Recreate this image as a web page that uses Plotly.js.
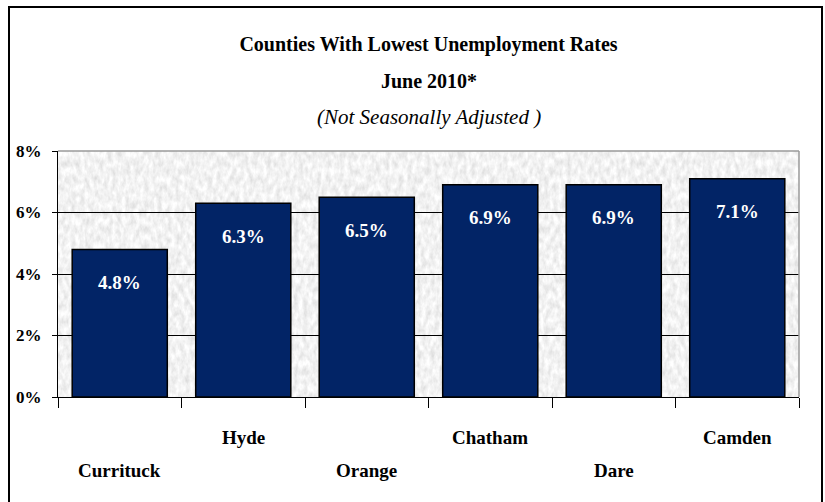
<!DOCTYPE html>
<html>
<head>
<meta charset="utf-8">
<script src="https://cdn.plot.ly/plotly-3.0.1.min.js"></script>
<style>
  html, body { margin: 0; padding: 0; background: #ffffff; }
  #chart { width: 825px; height: 502px; }
</style>
</head>
<body>
<div id="chart"></div>
<script>
// ---- Data ----
const counties = ["Currituck", "Hyde", "Orange", "Chatham", "Dare", "Camden"];
const rates = [4.8, 6.3, 6.5, 6.9, 6.9, 7.1];
const rateLabels = ["4.8%", "6.3%", "6.5%", "6.9%", "6.9%", "7.1%"];
const yTickVals = [0, 2, 4, 6, 8];
const yTickText = ["0%", "2%", "4%", "6%", "8%"];
const titleLines = ["Counties With Lowest Unemployment Rates", "June 2010*", "(Not Seasonally Adjusted )"];

const FONT = "Liberation Serif, Times New Roman, serif";

// granite-like texture for the plot background
const texture = 'data:image/svg+xml;utf8,' + encodeURIComponent(
  '<svg xmlns="http://www.w3.org/2000/svg" width="741" height="246" viewBox="0 0 741 246" preserveAspectRatio="none">' +
  '<filter id="g" x="0" y="0" width="100%" height="100%">' +
  '<feTurbulence type="fractalNoise" baseFrequency="0.22 0.12" numOctaves="3" seed="5" result="n"/>' +
  '<feColorMatrix type="matrix" values="0.42 0 0 0 0.68  0.42 0 0 0 0.68  0.42 0 0 0 0.68  0 0 0 0 1"/>' +
  '</filter>' +
  '<rect width="741" height="246" fill="#e8e8e8"/>' +
  '<rect width="741" height="246" filter="url(#g)"/>' +
  '</svg>');

const annotations = [];
// staggered category labels
counties.forEach((c, i) => {
  annotations.push({
    x: c, xref: 'x', yref: 'paper',
    y: (i % 2 === 0) ? -0.297 : -0.163,
    yanchor: 'middle', xanchor: 'center',
    text: '<b>' + c + '</b>', showarrow: false,
    font: { family: FONT, size: 19, color: '#000000' }
  });
});
// value labels inside bars
counties.forEach((c, i) => {
  annotations.push({
    x: c, y: rates[i], xref: 'x', yref: 'y',
    yanchor: 'middle', xanchor: 'center', yshift: -33,
    text: '<b>' + rateLabels[i] + '</b>', showarrow: false,
    font: { family: FONT, size: 19, color: '#ffffff' }
  });
});
// subtitle lines
annotations.push({
  xref: 'paper', yref: 'paper', x: 0.5, y: (397 - 81) / 246,
  xanchor: 'center', yanchor: 'middle', showarrow: false,
  text: '<b>' + titleLines[1] + '</b>',
  font: { family: FONT, size: 20, color: '#000000' }
});
annotations.push({
  xref: 'paper', yref: 'paper', x: 0.5, y: (397 - 117) / 246,
  xanchor: 'center', yanchor: 'middle', showarrow: false,
  text: '<i>' + titleLines[2] + '</i>',
  font: { family: FONT, size: 21, color: '#000000' }
});

const trace = {
  type: 'bar',
  x: counties,
  y: rates,
  marker: { color: '#022466', line: { color: '#000000', width: 1.5 } },
  hoverinfo: 'skip'
};

const layout = {
  width: 825,
  height: 502,
  margin: { l: 58, r: 26, t: 151, b: 105, pad: 0 },
  paper_bgcolor: '#ffffff',
  plot_bgcolor: '#e4e4e4',
  font: { family: FONT },
  showlegend: false,
  bargap: 0.23,
  title: {
    text: '<b>' + titleLines[0] + '</b>',
    x: 0.5, xanchor: 'center', xref: 'paper',
    y: 1 - 44 / 502, yanchor: 'middle', yref: 'container',
    font: { family: FONT, size: 20, color: '#000000' }
  },
  xaxis: {
    type: 'category',
    tickson: 'boundaries',
    ticks: 'outside', ticklen: 10, tickwidth: 1, tickcolor: '#000000',
    showticklabels: false,
    showline: true, linecolor: '#000000', linewidth: 1,
    showgrid: false, fixedrange: true
  },
  yaxis: {
    range: [0, 8],
    tickvals: yTickVals, ticktext: yTickText,
    ticks: 'outside', ticklen: 5, tickwidth: 1, tickcolor: '#000000',
    tickfont: { family: FONT, size: 17, color: '#000000', weight: 'bold' },
    ticklabelstandoff: 7,
    showline: true, linecolor: '#000000', linewidth: 1,
    showgrid: true, gridcolor: '#000000', gridwidth: 1,
    zeroline: false, fixedrange: true
  },
  images: [{
    source: texture, xref: 'paper', yref: 'paper',
    x: 0, y: 1, sizex: 1, sizey: 1, xanchor: 'left', yanchor: 'top',
    sizing: 'stretch', layer: 'below'
  }],
  shapes: [
    // gray top/right plot border
    { type: 'line', xref: 'paper', yref: 'paper', x0: 0, x1: 1, y0: 1, y1: 1,
      line: { color: '#9a9a9a', width: 1.5 } },
    { type: 'line', xref: 'paper', yref: 'paper', x0: 1, x1: 1, y0: 0, y1: 1,
      line: { color: '#9a9a9a', width: 1.5 } },
    // outer frame
    { type: 'rect', xref: 'paper', yref: 'paper',
      x0: (9 - 58) / 741, x1: (822 - 58) / 741,
      y0: (397 - 506) / 246, y1: (397 - 7) / 246,
      line: { color: '#000000', width: 2 }, fillcolor: 'rgba(0,0,0,0)' }
  ],
  annotations: annotations
};

Plotly.newPlot('chart', [trace], layout, { displayModeBar: false, staticPlot: true });
</script>
</body>
</html>
